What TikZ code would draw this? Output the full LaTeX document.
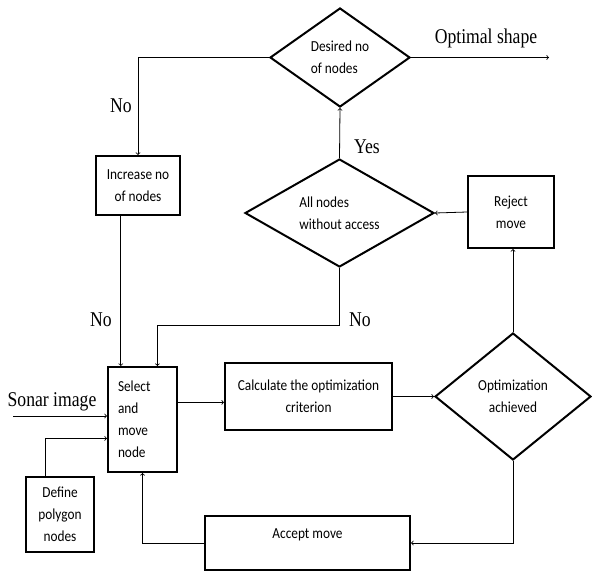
\documentclass[tikz,border=0pt]{standalone}
\usepackage{fontspec}
\setmainfont{Liberation Serif}[FakeStretch=0.84]
\newfontfamily\boxfont{Carlito}[FakeStretch=0.87]
\usetikzlibrary{shapes.geometric, arrows, calc}

\begin{document}
\begin{tikzpicture}[x=1pt, y=-1pt,
    box/.style={draw, line width=2pt, inner sep=0pt, align=center,
        font={\boxfont\fontsize{15.3}{22}\selectfont}},
    decision/.style={draw, diamond, aspect=1.5, line width=2pt, inner sep=0pt,
        align=left, font={\boxfont\fontsize{15.3}{22}\selectfont}},
    line/.style={line width=0.8pt},
    lbl/.style={font={\fontsize{21}{22}\selectfont}}]
        % Frame
        \useasboundingbox (0,0) rectangle (592,571);

        % Decisions
        \node[decision, minimum width=140pt, minimum height=99pt] (des) at (340,57.5) {Desired no\\of nodes};
        \node[decision, minimum width=189pt, minimum height=108pt] (all) at (339.5,213) {All nodes\\without access};
        \node[decision, minimum width=156pt, minimum height=127pt, align=center] (opt) at (513,396.5) {Optimization\\achieved};

        % Boxes
        \node[box, minimum width=84pt, minimum height=59pt] (inc) at (138,185.5) {Increase no\\of nodes};
        \node[box, minimum width=86pt, minimum height=72pt] (rej) at (511,212) {Reject\\move};
        \node[box, minimum width=69pt, minimum height=105pt, text width=49pt, align=left] (sel) at (142.5,419.5) {Select\\and\\move\\node};
        \node[box, minimum width=167pt, minimum height=67pt] (calc) at (308.5,396.5) {Calculate the optimization\\criterion};
        \node[box, minimum width=68pt, minimum height=75pt] (def) at (60,514.5) {Define\\polygon\\nodes};
        \node[box, minimum width=205pt, minimum height=54pt, text height=22pt, text depth=32pt] (acc) at (307.5,543) {Accept move};

        % Labels
        \node[lbl] (optlbl) at (486,38) {Optimal shape};
        \node[lbl] (no1) at (121,106) {No};
        \node[lbl] (yes) at (367,147) {Yes};
        \node[lbl] (no2) at (101,320) {No};
        \node[lbl] (no3) at (360,320) {No};
        \node[lbl] (sonarlbl) at (52,402) {Sonar image};

        % Connector ends
        \coordinate (out) at (549,57.5);
        \coordinate (sonar) at (13,416);
        \coordinate (incout) at ($(inc.south west)!0.3!(inc.south east)$);
        \coordinate (selin) at ($(sel.north west)!0.71!(sel.north east)$);
        \coordinate (selout) at ($(sel.north east)!0.34!(sel.south east)$);
        \coordinate (selin2) at ($(sel.north west)!0.677!(sel.south west)$);
        \coordinate (defout) at ($(def.north west)!0.29!(def.north east)$);

        % Connectors
        \draw[line, ->] (des.west) -| (inc.north);
        \draw[line, ->] (des.east) -- (out);
        \draw[line, ->] (all.north) -- (des.south);
        \draw[line, ->] (rej.west) -- (all.east);
        \draw[line, ->] (opt.north) -- (opt.north |- rej.south);
        \draw[line, ->] (incout) -- (incout |- sel.north);
        \draw[line, ->] (all.south) -- ++(0,57) -| (selin);
        \draw[line, ->] (selout) -- (selout -| calc.west);
        \draw[line, ->] (calc.east) -- (opt.west);
        \draw[line, ->] (opt.south) |- (acc.east);
        \draw[line, ->] (acc.west) -| (sel.south);
        \draw[line, ->] (sonar) -- (sonar -| sel.west);
        \draw[line, ->] (defout) |- (selin2);

    \end{tikzpicture}
\end{document}
